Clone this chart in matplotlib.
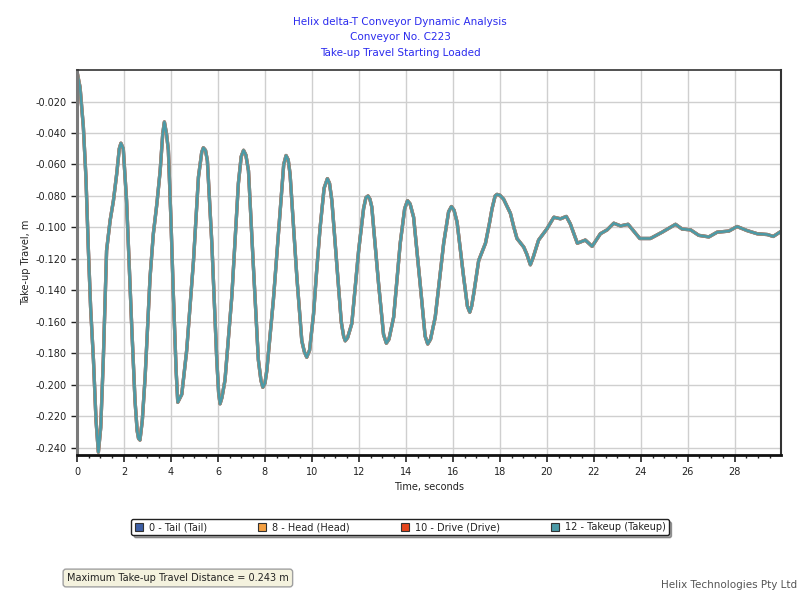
import matplotlib
matplotlib.use("Agg")
import matplotlib.pyplot as plt
from matplotlib.lines import Line2D
import matplotlib.ticker as mticker

# ---- data ----
time_s = [0.00, 0.13, 0.27, 0.38, 0.48, 0.58, 0.70, 0.81, 0.91,
          1.01, 1.12, 1.26, 1.41, 1.55, 1.69, 1.80, 1.87,
          1.97, 2.11, 2.33, 2.47, 2.56, 2.62, 2.68,
          2.78, 2.90, 3.11, 3.25, 3.40, 3.54, 3.65, 3.72,
          3.81, 3.89, 4.00, 4.10, 4.22, 4.29,
          4.39, 4.46, 4.67, 4.96, 5.17, 5.31, 5.38,
          5.47, 5.55, 5.74, 5.95, 6.03, 6.09,
          6.17, 6.30, 6.59, 6.87, 6.99, 7.09,
          7.19, 7.30, 7.51, 7.72, 7.83, 7.91,
          8.00, 8.08, 8.36, 8.65, 8.80, 8.90,
          8.99, 9.07, 9.36, 9.57, 9.68, 9.78,
          9.90, 10.07, 10.20, 10.35, 10.52, 10.66,
          10.75, 10.85, 11.07, 11.25, 11.35, 11.42,
          11.52, 11.70, 11.99, 12.20, 12.30, 12.39,
          12.47, 12.55, 12.84, 13.05, 13.17,
          13.28, 13.48, 13.76, 13.95, 14.07,
          14.18, 14.33, 14.61, 14.82, 14.93,
          15.05, 15.25, 15.61, 15.82, 15.94,
          16.05, 16.18, 16.46, 16.62, 16.72,
          16.80, 16.89, 17.10, 17.39, 17.55, 17.67, 17.80, 17.88,
          18.00, 18.16, 18.45, 18.60, 18.73, 19.02, 19.15, 19.30, 19.42,
          19.65, 20.00, 20.30, 20.58, 20.83, 21.00, 21.30, 21.64, 21.93, 22.28,
          22.57, 22.85, 23.14, 23.46, 23.96, 24.41, 24.91, 25.48, 25.76, 26.12,
          26.47, 26.90, 27.25, 27.75, 28.10, 28.53, 28.96, 29.39, 29.64, 29.98]
takeup_travel = [-0.001, -0.011, -0.036, -0.068, -0.1125, -0.151, -0.184, -0.2226, -0.2427,
                 -0.227, -0.184, -0.1146, -0.0956, -0.083, -0.066, -0.050, -0.0465,
                 -0.050, -0.083, -0.163, -0.210, -0.229, -0.234, -0.235,
                 -0.2226, -0.195, -0.1316, -0.104, -0.085, -0.064, -0.0405, -0.033,
                 -0.0405, -0.051, -0.0956, -0.142, -0.191, -0.211,
                 -0.208, -0.206, -0.178, -0.121, -0.068, -0.0522, -0.0494,
                 -0.051, -0.0575, -0.110, -0.184, -0.205, -0.212,
                 -0.208, -0.197, -0.144, -0.072, -0.055, -0.051,
                 -0.054, -0.064, -0.125, -0.184, -0.197, -0.2015,
                 -0.199, -0.191, -0.146, -0.089, -0.060, -0.0543,
                 -0.057, -0.066, -0.1316, -0.172, -0.179, -0.1824,
                 -0.178, -0.155, -0.128, -0.100, -0.075, -0.069,
                 -0.072, -0.083, -0.125, -0.160, -0.169, -0.172,
                 -0.170, -0.161, -0.1146, -0.088, -0.081, -0.080,
                 -0.082, -0.087, -0.136, -0.168, -0.1735,
                 -0.171, -0.157, -0.110, -0.088, -0.083,
                 -0.085, -0.0935, -0.136, -0.169, -0.174,
                 -0.171, -0.157, -0.110, -0.090, -0.0867,
                 -0.089, -0.0966, -0.1316, -0.150, -0.1538,
                 -0.150, -0.142, -0.121, -0.110, -0.098, -0.088, -0.080, -0.079,
                 -0.0795, -0.082, -0.091, -0.100, -0.107, -0.1125, -0.117, -0.1237, -0.119,
                 -0.108, -0.101, -0.0935, -0.0945, -0.093, -0.0977, -0.110, -0.108, -0.112, -0.104,
                 -0.1015, -0.0973, -0.099, -0.098, -0.107, -0.107, -0.103, -0.098, -0.101, -0.1015,
                 -0.105, -0.106, -0.103, -0.1023, -0.0994, -0.102, -0.104, -0.1045, -0.1057, -0.1024]
tail_travel = list(takeup_travel)
head_travel = list(takeup_travel)
drive_travel = list(takeup_travel)

series_names = ["0 - Tail (Tail)", "8 - Head (Head)", "10 - Drive (Drive)", "12 - Takeup (Takeup)"]
series_colors = ["#3D5FA6", "#F4A042", "#E5451C", "#4B9AA7"]
x_ticks = [0, 2, 4, 6, 8, 10, 12, 14, 16, 18, 20, 22, 24, 26, 28]
y_ticks = [-0.240, -0.220, -0.200, -0.180, -0.160, -0.140, -0.120, -0.100,
           -0.080, -0.060, -0.040, -0.020]
title_lines = ["Helix delta-T Conveyor Dynamic Analysis", "Conveyor No. C223",
               "Take-up Travel Starting Loaded"]

plt.rcParams['font.family'] = ['DejaVu Sans']
fig = plt.figure(figsize=(8, 6), dpi=100)
ax = fig.add_axes([0.09625, 0.2417, 0.8800, 0.6416])

ax.plot(time_s, tail_travel, color=series_colors[0], lw=2.4, solid_joinstyle='round')
ax.plot(time_s, head_travel, color="#B98E6A", lw=2.4, solid_joinstyle='round')
ax.plot(time_s, drive_travel, color="#AF8A70", lw=2.4, solid_joinstyle='round')
ax.plot(time_s, takeup_travel, color=series_colors[3], lw=1.75, solid_joinstyle='round')

ax.set_xlim(0, 29.97)
ax.set_ylim(-0.2445, 0.0)
ax.set_xticks(x_ticks)
ax.set_yticks(y_ticks)
ax.xaxis.set_minor_locator(mticker.MultipleLocator(0.5))
ax.yaxis.set_major_formatter(mticker.FormatStrFormatter('%.3f'))
ax.grid(True, which='major', color='#CFCFCF', lw=1.0)
ax.set_axisbelow(True)
ax.tick_params(axis='both', which='major', labelsize=7, colors='#222222', length=4, width=1)
ax.tick_params(axis='x', which='minor', length=2.5, width=1, colors='#222222')
ax.tick_params(axis='x', which='major', length=5, width=1.2)

ax.spines['left'].set_color('#7A7A7A'); ax.spines['left'].set_linewidth(2.2)
ax.spines['bottom'].set_color('#111111'); ax.spines['bottom'].set_linewidth(2.0)
ax.spines['top'].set_color('#333333'); ax.spines['top'].set_linewidth(1.2)
ax.spines['right'].set_color('#333333'); ax.spines['right'].set_linewidth(1.5)

ax.set_xlabel("Time, seconds", fontsize=7, color='#222222', labelpad=4)
ax.set_ylabel("Take-up Travel, m", fontsize=7, color='#222222', labelpad=3)

for i, line in enumerate(title_lines):
    fig.text(0.5, 1 - (22 + i * 15.5) / 600, line, ha='center', va='center',
             fontsize=7.5, color='#2B2BEE')

handles = [Line2D([], [], linestyle='none', marker='s', markersize=6,
                  markerfacecolor=c, markeredgecolor='#333333', markeredgewidth=0.8)
           for c in series_colors]
leg = fig.legend(handles, series_names, loc='center', bbox_to_anchor=(0.5, 1 - 527 / 600),
                 ncol=4, fontsize=7, frameon=True, fancybox=True, shadow=True,
                 columnspacing=5.2, handletextpad=0.5, handlelength=1.0,
                 borderpad=0.3, borderaxespad=0)
leg.get_frame().set_edgecolor('#222222')
leg.get_frame().set_linewidth(1.0)
for t in leg.get_texts():
    t.set_color('#222222')

fig.text(67 / 800, 1 - 578 / 600, "Maximum Take-up Travel Distance = 0.243 m",
         ha='left', va='center', fontsize=7, color='#222222',
         bbox=dict(boxstyle='round,pad=0.4,rounding_size=0.3', facecolor='#F4F2DE',
                   edgecolor='#A0A0A0', lw=1.0))
fig.text(797 / 800, 1 - 585 / 600, "Helix Technologies Pty Ltd", ha='right', va='center',
         fontsize=7.5, color='#555555')

fig.savefig("out.png", dpi=100)
